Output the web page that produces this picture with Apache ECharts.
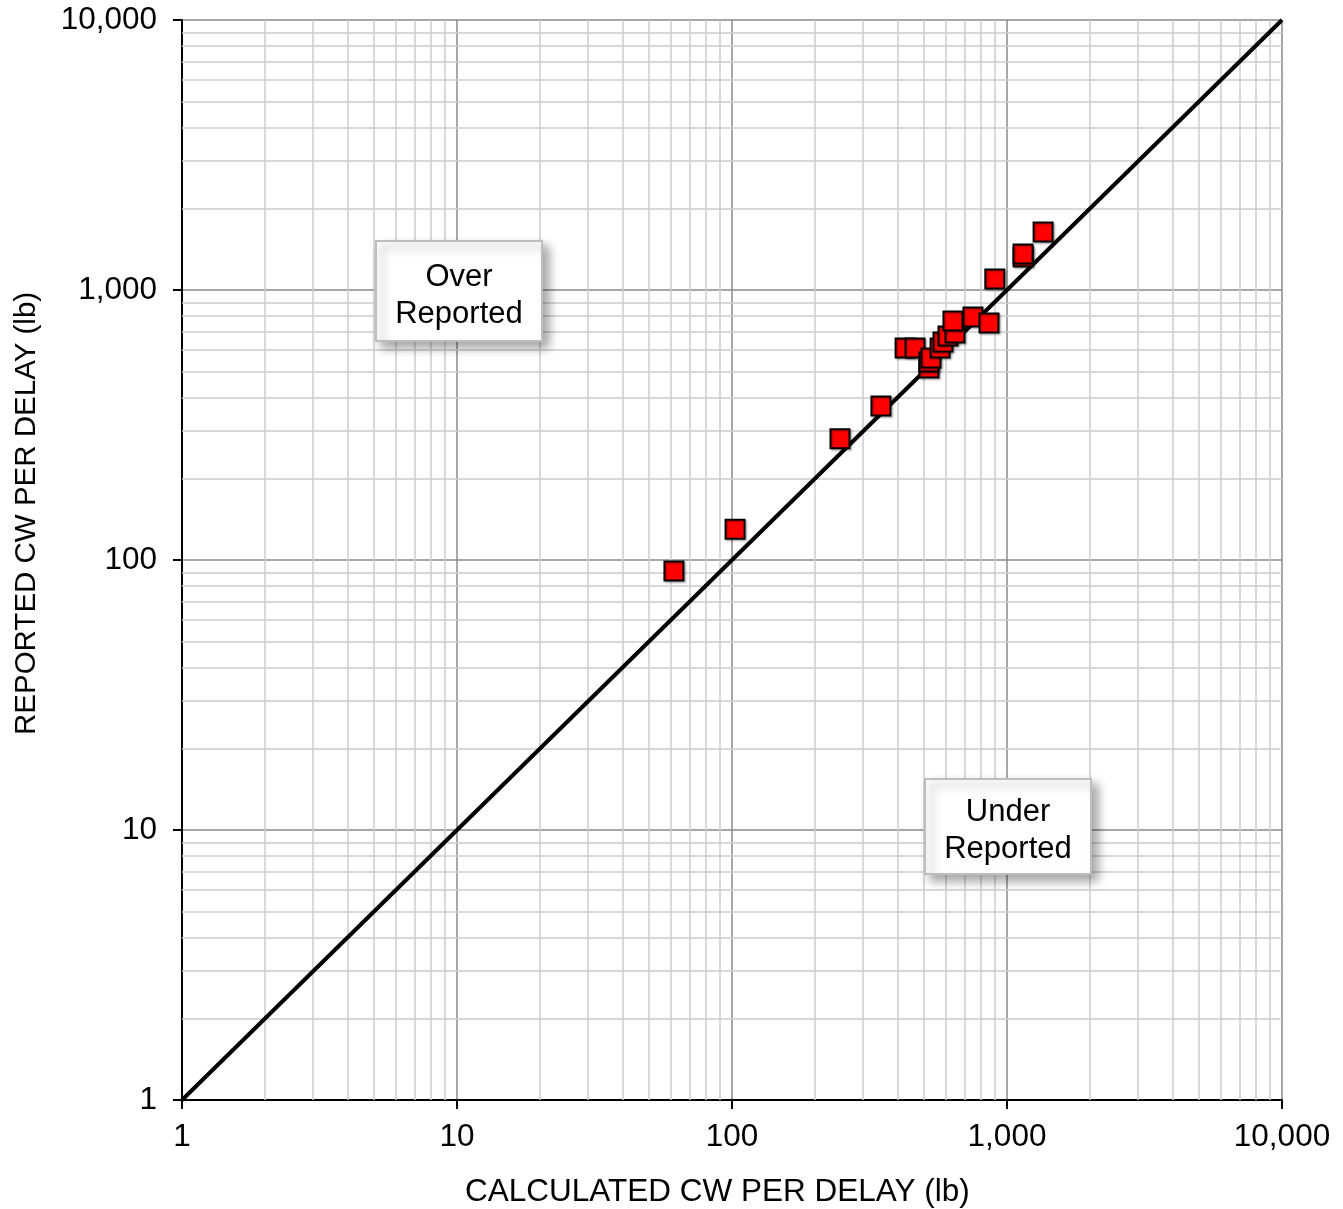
<!DOCTYPE html>
<html>
<head>
<meta charset="utf-8">
<script src="https://cdn.jsdelivr.net/npm/echarts@6/dist/echarts.min.js"></script>
<style>
html,body{margin:0;padding:0;background:#fff;}
#chart{width:1343px;height:1209px;}
</style>
</head>
<body>
<div id="chart"></div>
<script>
// ---- data ----
var calculated = [61.5, 102.6, 247, 348, 426, 463, 520, 520, 529, 571, 585, 610, 647, 636, 752, 860, 903, 1144, 1144, 1353];
var reported   = [91,   130,   281, 372, 610, 610, 514, 541, 560, 610, 642, 676, 693, 767, 794, 755, 1099, 1325, 1360, 1640];
var parityLine = [1, 10000];
var minorMultipliers = [2, 3, 4, 5, 6, 7, 8, 9];
var decades = [1, 10, 100, 1000];
var xTitle = 'CALCULATED CW PER DELAY (lb)';
var yTitle = 'REPORTED CW PER DELAY (lb)';
var noteOver = 'Over\nReported';
var noteUnder = 'Under\nReported';

var FONT = '"Liberation Sans", Arial, sans-serif';

var minorVals = [];
decades.forEach(function (d) { minorMultipliers.forEach(function (m) { minorVals.push(d * m); }); });
var minorLines = [];
minorVals.forEach(function (v) { minorLines.push({ xAxis: v }); minorLines.push({ yAxis: v }); });

var points = calculated.map(function (c, i) { return [c, reported[i]]; });
var diag = [[{ coord: [parityLine[0], parityLine[0]] }, { coord: [parityLine[1], parityLine[1]] }]];

function fmt(v) { return Number(v).toLocaleString('en-US'); }

var chart = echarts.init(document.getElementById('chart'), null, { renderer: 'canvas' });

var axisCommon = {
  type: 'log',
  logBase: 10,
  min: 1,
  max: 10000,
  axisLine: { show: true, onZero: false, lineStyle: { color: '#000', width: 2 } },
  axisTick: { show: true, length: 9, lineStyle: { color: '#000', width: 2 } },
  splitLine: { show: true, lineStyle: { color: '#8a8a8a', width: 1.5 } },
  minorTick: { show: false },
  minorSplitLine: { show: false },
  axisLabel: { color: '#000', fontSize: 31.5, fontFamily: FONT, formatter: fmt }
};

var noShadow = { textShadowBlur: 0, textShadowColor: 'transparent', textShadowOffsetX: 0, textShadowOffsetY: 0, shadowBlur: 0, shadowColor: 'transparent' };

chart.setOption({
  animation: false,
  backgroundColor: '#fff',
  grid: { left: 182, right: 61, top: 20, bottom: 109, containLabel: false },
  xAxis: Object.assign({}, axisCommon, { axisLabel: Object.assign({}, axisCommon.axisLabel, { margin: 21 }) }),
  yAxis: Object.assign({}, axisCommon, { axisLabel: Object.assign({}, axisCommon.axisLabel, { margin: 25 }) }),
  series: [
    {
      type: 'line',
      data: [],
      z: 1,
      silent: true,
      markLine: {
        silent: true,
        symbol: ['none', 'none'],
        label: { show: false },
        lineStyle: { color: '#cccccc', width: 1.5, type: 'solid' },
        emphasis: { disabled: true },
        data: minorLines
      }
    },
    {
      type: 'line',
      data: [],
      z: 3,
      silent: true,
      markLine: {
        silent: true,
        symbol: ['none', 'none'],
        label: { show: false },
        lineStyle: { color: '#000', width: 4, type: 'solid' },
        emphasis: { disabled: true },
        data: diag
      }
    },
    {
      type: 'scatter',
      data: points,
      z: 5,
      symbol: 'rect',
      symbolSize: 19,
      itemStyle: {
        color: '#ff0000',
        opacity: 1,
        borderColor: '#000',
        borderWidth: 2,
        shadowColor: 'rgba(0,0,0,0.25)',
        shadowBlur: 2,
        shadowOffsetX: 1.5,
        shadowOffsetY: 1.5
      }
    }
  ],
  graphic: [
    {
      type: 'text', z: 10,
      x: 465, y: 1176,
      style: Object.assign({ text: xTitle, fontSize: 31.5, fontFamily: FONT, fill: '#000' }, noShadow)
    },
    {
      type: 'text', z: 10, rotation: Math.PI / 2,
      x: 12, y: 735,
      style: Object.assign({ text: yTitle, fontSize: 29.5, fontFamily: FONT, fill: '#000', textVerticalAlign: 'top' }, noShadow)
    },
    {
      type: 'rect', z: 20, x: 376, y: 241,
      shape: { x: 0, y: 0, width: 166, height: 100 },
      style: { fill: '#fff', stroke: '#bdbdbd', lineWidth: 2, shadowColor: 'rgba(0,0,0,0.35)', shadowBlur: 10, shadowOffsetX: 6, shadowOffsetY: 6 }
    },
    {
      type: 'text', z: 21, x: 459, y: 296,
      style: Object.assign({ text: noteOver, fontSize: 31, fontFamily: FONT, fill: '#000', textAlign: 'center', textVerticalAlign: 'middle', lineHeight: 37 }, noShadow)
    },
    {
      type: 'rect', z: 20, x: 925, y: 779,
      shape: { x: 0, y: 0, width: 166, height: 95 },
      style: { fill: '#fff', stroke: '#bdbdbd', lineWidth: 2, shadowColor: 'rgba(0,0,0,0.35)', shadowBlur: 10, shadowOffsetX: 6, shadowOffsetY: 6 }
    },
    {
      type: 'text', z: 21, x: 1008, y: 831,
      style: Object.assign({ text: noteUnder, fontSize: 31, fontFamily: FONT, fill: '#000', textAlign: 'center', textVerticalAlign: 'middle', lineHeight: 37 }, noShadow)
    }
  ]
});
</script>
</body>
</html>
